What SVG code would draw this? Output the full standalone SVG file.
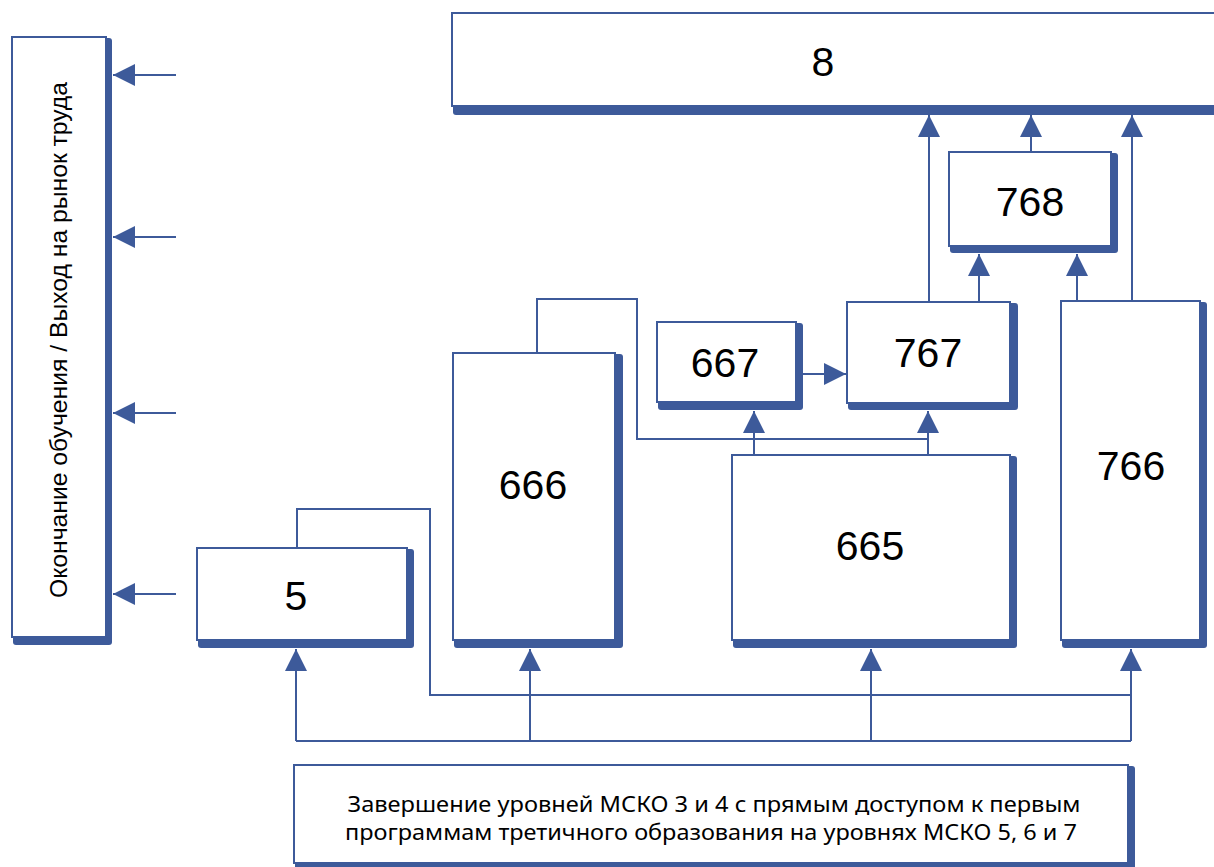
<svg xmlns="http://www.w3.org/2000/svg" width="1214" height="867" viewBox="0 0 1214 867">
<style>
.sh{fill:#3d5a9a}
.bx{fill:#fff;stroke:#3d5a9a;stroke-width:2}
.ln{fill:none;stroke:#3d5a9a;stroke-width:2}
.num{font-family:"Liberation Sans",Arial,sans-serif;font-size:41px;fill:#000;text-anchor:middle}
.lbl{font-family:"Liberation Sans",Arial,sans-serif;font-size:24px;fill:#000;text-anchor:middle}
.cap{font-family:"Noto Sans","Open Sans",sans-serif;font-size:21px;fill:#000;text-anchor:middle}
</style>
<defs>
<marker id="ah" markerUnits="userSpaceOnUse" markerWidth="23" markerHeight="22" refX="22" refY="11" orient="auto" viewBox="0 0 23 22">
<path d="M0,0 L22,11 L0,22 z" fill="#3d5a9a"/>
</marker>
</defs>
<rect width="1214" height="867" fill="#fff"/>

<g id="connectors">
<path class="ln" d="M176 75 H113" marker-end="url(#ah)"/>
<path class="ln" d="M176 237 H113" marker-end="url(#ah)"/>
<path class="ln" d="M176 413 H113" marker-end="url(#ah)"/>
<path class="ln" d="M176 594 H113" marker-end="url(#ah)"/>
<path class="ln" d="M929 302 V115" marker-end="url(#ah)"/>
<path class="ln" d="M1031 152 V115" marker-end="url(#ah)"/>
<path class="ln" d="M1132 301 V115" marker-end="url(#ah)"/>
<path class="ln" d="M979 302 V254" marker-end="url(#ah)"/>
<path class="ln" d="M1077 301 V254" marker-end="url(#ah)"/>
<path class="ln" d="M803 374 H846" marker-end="url(#ah)"/>
<path class="ln" d="M754 455 V411" marker-end="url(#ah)"/>
<path class="ln" d="M928 455 V411" marker-end="url(#ah)"/>
<path class="ln" d="M537 353 V299 H637 V439 H928"/>
<path class="ln" d="M297 548 V509 H430 V695 H1131"/>
<path class="ln" d="M296 741 H1131"/>
<path class="ln" d="M296 741 V649" marker-end="url(#ah)"/>
<path class="ln" d="M530 741 V649" marker-end="url(#ah)"/>
<path class="ln" d="M871 741 V649" marker-end="url(#ah)"/>
<path class="ln" d="M1131 741 V649" marker-end="url(#ah)"/>
</g>

<g id="node-left">
<rect class="sh" x="13" y="38" width="99" height="607" rx="3"/>
<rect class="bx" x="12" y="37" width="94" height="600"/>
<text class="lbl" transform="translate(67 340) rotate(-90)" textLength="516" lengthAdjust="spacingAndGlyphs">Окончание обучения / Выход на рынок труда</text>
</g>

<g id="node-8">
<rect class="sh" x="453" y="14" width="800" height="101" rx="3"/>
<rect class="bx" x="452" y="13" width="800" height="93"/>
<text class="num" x="823" y="76">8</text>
</g>

<g id="node-768">
<rect class="sh" x="950" y="153" width="168" height="100" rx="3"/>
<rect class="bx" x="949" y="152" width="162" height="94"/>
<text class="num" x="1030" y="216">768</text>
</g>

<g id="node-767">
<rect class="sh" x="848" y="303" width="170" height="107" rx="3"/>
<rect class="bx" x="847" y="302" width="163" height="101"/>
<text class="num" x="928" y="367">767</text>
</g>

<g id="node-667">
<rect class="sh" x="658" y="323" width="145" height="87" rx="3"/>
<rect class="bx" x="657" y="322" width="139" height="80"/>
<text class="num" x="725" y="377">667</text>
</g>

<g id="node-666">
<rect class="sh" x="454" y="354" width="169" height="294" rx="3"/>
<rect class="bx" x="453" y="353" width="162" height="287"/>
<text class="num" x="533" y="499">666</text>
</g>

<g id="node-665">
<rect class="sh" x="733" y="456" width="284" height="192" rx="3"/>
<rect class="bx" x="732" y="455" width="278" height="185"/>
<text class="num" x="870" y="560">665</text>
</g>

<g id="node-766">
<rect class="sh" x="1062" y="302" width="145" height="346" rx="3"/>
<rect class="bx" x="1061" y="301" width="139" height="339"/>
<text class="num" x="1131" y="480">766</text>
</g>

<g id="node-5">
<rect class="sh" x="198" y="549" width="216" height="99" rx="3"/>
<rect class="bx" x="197" y="548" width="210" height="92"/>
<text class="num" x="296" y="610">5</text>
</g>

<g id="node-bottom">
<rect class="sh" x="295" y="766" width="840" height="105" rx="3"/>
<rect class="bx" x="294" y="765" width="834" height="98"/>
<text class="cap" x="714" y="812" textLength="733" lengthAdjust="spacingAndGlyphs">Завершение уровней МСКО 3 и 4 с прямым доступом к первым</text>
<text class="cap" x="711" y="840" textLength="732" lengthAdjust="spacingAndGlyphs">программам третичного образования на уровнях МСКО 5, 6 и 7</text>
</g>
</svg>
